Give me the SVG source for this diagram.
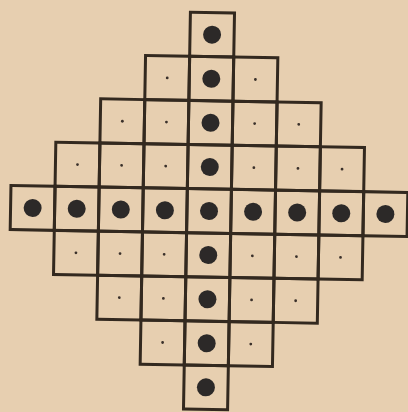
<svg xmlns="http://www.w3.org/2000/svg" width="408" height="412" viewBox="0 0 408 412">
<style>
.cell{fill:none;stroke:#33291f;stroke-width:3;stroke-linecap:square}
.peg{fill:#2c2928}
.hole{fill:#3a302a}
</style>
<defs>
<g id="big"><rect class="cell" x="-22.05" y="-22.05" width="44.1" height="44.1"/><circle class="peg" r="9"/></g>
<g id="small"><rect class="cell" x="-22.05" y="-22.05" width="44.1" height="44.1"/><circle class="hole" r="1.4"/></g>
</defs>
<rect width="408" height="412" fill="#e7cfb0"/>
<g id="board" transform="rotate(1,209,211)">
<g id="row-4"><use id="c-4_0" href="#big" x="209" y="34.6"/></g>
<g id="row-3">
<use id="c-3_-1" href="#small" x="164.9" y="78.7"/>
<use id="c-3_0" href="#big" x="209" y="78.7"/>
<use id="c-3_1" href="#small" x="253.1" y="78.7"/>
</g>
<g id="row-2">
<use id="c-2_-2" href="#small" x="120.8" y="122.8"/>
<use id="c-2_-1" href="#small" x="164.9" y="122.8"/>
<use id="c-2_0" href="#big" x="209" y="122.8"/>
<use id="c-2_1" href="#small" x="253.1" y="122.8"/>
<use id="c-2_2" href="#small" x="297.2" y="122.8"/>
</g>
<g id="row-1">
<use id="c-1_-3" href="#small" x="76.7" y="166.9"/>
<use id="c-1_-2" href="#small" x="120.8" y="166.9"/>
<use id="c-1_-1" href="#small" x="164.9" y="166.9"/>
<use id="c-1_0" href="#big" x="209" y="166.9"/>
<use id="c-1_1" href="#small" x="253.1" y="166.9"/>
<use id="c-1_2" href="#small" x="297.2" y="166.9"/>
<use id="c-1_3" href="#small" x="341.3" y="166.9"/>
</g>
<g id="row0">
<use id="c0_-4" href="#big" x="32.6" y="211"/>
<use id="c0_-3" href="#big" x="76.7" y="211"/>
<use id="c0_-2" href="#big" x="120.8" y="211"/>
<use id="c0_-1" href="#big" x="164.9" y="211"/>
<use id="c0_0" href="#big" x="209" y="211"/>
<use id="c0_1" href="#big" x="253.1" y="211"/>
<use id="c0_2" href="#big" x="297.2" y="211"/>
<use id="c0_3" href="#big" x="341.3" y="211"/>
<use id="c0_4" href="#big" x="385.4" y="211"/>
</g>
<g id="row1">
<use id="c1_-3" href="#small" x="76.7" y="255.1"/>
<use id="c1_-2" href="#small" x="120.8" y="255.1"/>
<use id="c1_-1" href="#small" x="164.9" y="255.1"/>
<use id="c1_0" href="#big" x="209" y="255.1"/>
<use id="c1_1" href="#small" x="253.1" y="255.1"/>
<use id="c1_2" href="#small" x="297.2" y="255.1"/>
<use id="c1_3" href="#small" x="341.3" y="255.1"/>
</g>
<g id="row2">
<use id="c2_-2" href="#small" x="120.8" y="299.2"/>
<use id="c2_-1" href="#small" x="164.9" y="299.2"/>
<use id="c2_0" href="#big" x="209" y="299.2"/>
<use id="c2_1" href="#small" x="253.1" y="299.2"/>
<use id="c2_2" href="#small" x="297.2" y="299.2"/>
</g>
<g id="row3">
<use id="c3_-1" href="#small" x="164.9" y="343.3"/>
<use id="c3_0" href="#big" x="209" y="343.3"/>
<use id="c3_1" href="#small" x="253.1" y="343.3"/>
</g>
<g id="row4"><use id="c4_0" href="#big" x="209" y="387.4"/></g>
</g>
</svg>
